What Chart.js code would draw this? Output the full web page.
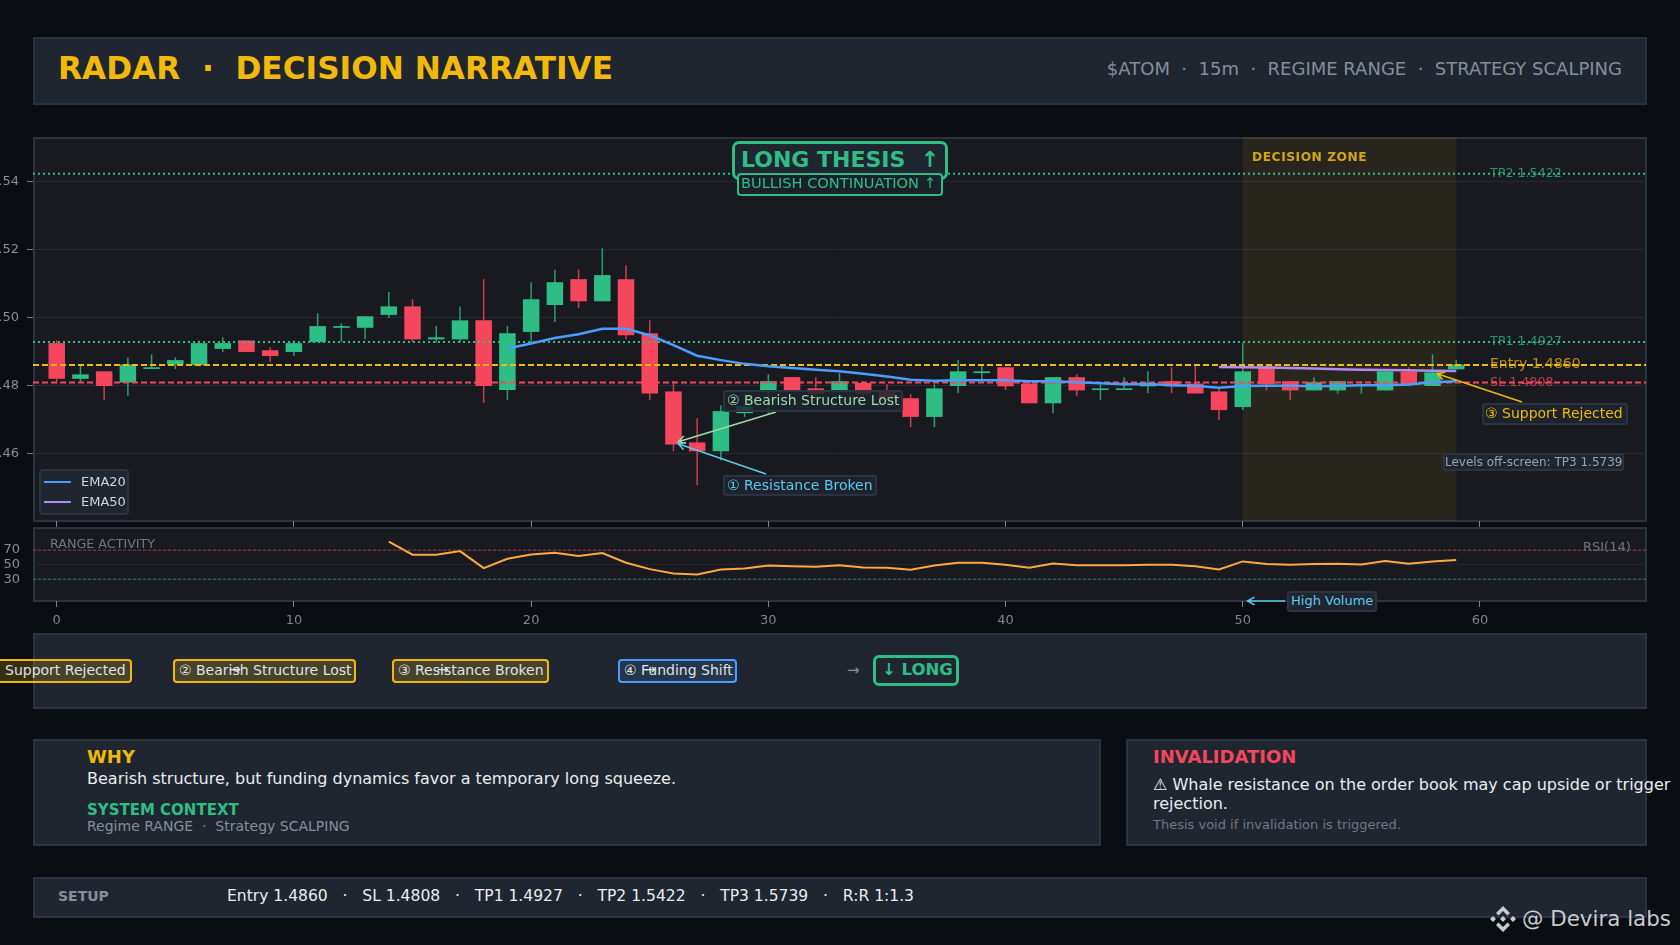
<!DOCTYPE html>
<html>
<head>
<meta charset="utf-8">
<title>RADAR Decision Narrative</title>
<script src="https://cdn.jsdelivr.net/npm/chart.js@4/dist/chart.umd.min.js"></script>
<style>
  html, body { margin: 0; padding: 0; background: #0a0d11; }
  body { position: relative; width: 1680px; height: 945px; overflow: hidden; font-family: "DejaVu Sans", sans-serif; color: #eaecef; }
  .panel { position: absolute; box-sizing: border-box; background: #1f2630; border: 2px solid #2b3340; }
  .plot { position: absolute; box-sizing: border-box; background: #181a20; border: 2px solid #2b3340; }
  .t { position: absolute; white-space: pre; line-height: 20px; }
  .box { position: absolute; box-sizing: border-box; white-space: pre; border-radius: 3px; background: rgba(31,38,48,.85); border: 2px solid #2b3340; display: flex; align-items: center; }
  .chip { position: absolute; box-sizing: border-box; top: 659px; height: 24px; padding-bottom: 2px; white-space: pre; border-radius: 4px; border: 2px solid #f0b90b; background: rgba(240,185,11,.2); font-size: 14px; display: flex; align-items: center; color: #dfe2e7; }
  canvas { position: absolute; left: 0; }
  #price-chart { top: 137px; }
  #rsi-chart { top: 527px; }
</style>
</head>
<body>

<!-- panels -->
<div class="panel" style="left:33px;top:37px;width:1614px;height:68px"></div>
<div class="plot" style="left:33px;top:137px;width:1614px;height:385px"></div>
<div class="plot" style="left:33px;top:527px;width:1614px;height:75px"></div>
<div class="panel" style="left:33px;top:633px;width:1614px;height:76px"></div>
<div class="panel" style="left:33px;top:739px;width:1068px;height:107px"></div>
<div class="panel" style="left:1126px;top:739px;width:521px;height:107px"></div>
<div class="panel" style="left:33px;top:877px;width:1614px;height:41px"></div>

<canvas id="price-chart" width="1680" height="393"></canvas>
<canvas id="rsi-chart" width="1680" height="103"></canvas>

<!-- header -->
<div class="t" style="left:58px;top:57px;line-height:22px;font-size:31.2px;font-weight:bold;color:#f0b90b">RADAR  ·  DECISION NARRATIVE</div>
<div class="t" style="right:58px;top:59px;font-size:18px;color:#848e9c">$ATOM  ·  15m  ·  REGIME RANGE  ·  STRATEGY SCALPING</div>

<!-- thesis badge -->
<div class="box" style="left:732px;top:141px;width:216px;height:39px;border:3px solid #2ebd85;border-radius:7px;background:#1f2630;padding-left:6px;padding-bottom:2px;font-size:22px;font-weight:bold;color:#2ebd85">LONG THESIS  ↑</div>
<div class="box" style="left:737px;top:173px;width:206px;height:23px;border:2px solid #2ebd85;border-radius:4px;background:#1b2129;padding-left:2px;padding-bottom:4px;font-size:14.6px;color:#2ebd85">BULLISH CONTINUATION ↑</div>

<!-- level and zone labels -->
<div class="t" style="left:1252px;top:147px;font-size:12.3px;font-weight:bold;letter-spacing:.5px;color:#d4a514">DECISION ZONE</div>
<div class="t" style="left:1490px;top:163px;font-size:12.7px;color:#2ebd85;opacity:.75">TP2 1.5422</div>
<div class="t" style="left:1490px;top:331px;font-size:12.7px;color:#2ebd85;opacity:.75">TP1 1.4927</div>
<div class="t" style="left:1490px;top:353px;font-size:14px;color:#f0b90b;opacity:.75">Entry 1.4860</div>
<div class="t" style="left:1490px;top:372px;font-size:12.7px;color:#f6465d;opacity:.75">SL 1.4808</div>

<!-- chart callouts -->
<div class="box" style="left:723px;top:390px;width:180px;height:22px;padding-left:2px;padding-bottom:2px;font-size:14px;color:#a0d9a4">② Bearish Structure Lost</div>
<div class="box" style="left:723px;top:475px;width:154px;height:21px;padding-left:2px;padding-bottom:2px;font-size:14px;color:#5ec8f0">① Resistance Broken</div>
<div class="box" style="left:1482px;top:403px;width:146px;height:22px;padding-left:1px;padding-bottom:2px;font-size:14px;color:#f0b90b">③ Support Rejected</div>
<div class="box" style="left:1443px;top:453px;width:181px;height:18px;padding-left:0;font-size:12px;color:#9aa2ae;background:#1f2630">Levels off-screen: TP3 1.5739</div>
<div class="box" style="left:1287px;top:591px;width:90px;height:21px;padding-left:2px;padding-bottom:2px;font-size:13px;color:#5ec8f0;background:#1f2630">High Volume</div>

<!-- legend -->
<div class="box" style="left:39px;top:469px;width:90px;height:46px;background:#1f2630;border-radius:4px"></div>
<div class="t" style="left:81px;top:472px;font-size:13px;color:#cfd3da">EMA20</div>
<div class="t" style="left:81px;top:492px;font-size:13px;color:#cfd3da">EMA50</div>
<div style="position:absolute;left:44px;top:481px;width:27px;height:2px;background:#4a9eff"></div>
<div style="position:absolute;left:44px;top:501px;width:27px;height:2px;background:#b08cf0"></div>

<!-- rsi labels -->
<div class="t" style="left:50px;top:534px;font-size:12.7px;color:#6f7785">RANGE ACTIVITY</div>
<div class="t" style="left:1583px;top:537px;font-size:13px;color:#6f7785">RSI(14)</div>

<!-- chain -->
<div class="chip" style="left:-21px;width:153px;padding-left:7px">① Support Rejected</div>
<div class="chip" style="left:173px;width:183px;padding-left:4px">② Bearish Structure Lost</div>
<div class="chip" style="left:392px;width:157px;padding-left:4px">③ Resistance Broken</div>
<div class="chip" style="left:618px;width:119px;padding-left:4px;border-color:#4a9eff;background:rgba(74,158,255,.13)">④ Funding Shift</div>
<div class="t" style="left:229px;top:659px;font-size:14px;color:#dfe2e7">→</div>
<div class="t" style="left:437px;top:659px;font-size:14px;color:#dfe2e7">→</div>
<div class="t" style="left:644px;top:659px;font-size:14px;color:#dfe2e7">→</div>
<div class="t" style="left:847px;top:660px;font-size:15px;color:#848e9c">→</div>
<div class="chip" style="left:873px;top:655px;width:86px;height:31px;padding-left:6px;padding-bottom:2px;border:3px solid #2ebd85;border-radius:6px;background:transparent;font-size:16.5px;font-weight:bold;color:#2ebd85">↓ LONG</div>

<!-- why -->
<div class="t" style="left:87px;top:747px;font-size:18px;font-weight:bold;color:#f0b90b">WHY</div>
<div class="t" style="left:87px;top:769px;font-size:16px;color:#eaecef">Bearish structure, but funding dynamics favor a temporary long squeeze.</div>
<div class="t" style="left:87px;top:800px;font-size:15px;font-weight:bold;color:#2ebd85">SYSTEM CONTEXT</div>
<div class="t" style="left:87px;top:816px;font-size:14px;color:#848e9c">Regime RANGE  ·  Strategy SCALPING</div>

<!-- invalidation -->
<div class="t" style="left:1153px;top:747px;font-size:18px;font-weight:bold;color:#f6465d">INVALIDATION</div>
<div class="t" style="left:1153px;top:775px;font-size:16px;color:#eaecef">⚠ Whale resistance on the order book may cap upside or trigger</div>
<div class="t" style="left:1153px;top:794px;font-size:16px;color:#eaecef">rejection.</div>
<div class="t" style="left:1153px;top:815px;font-size:13px;color:#6f7785">Thesis void if invalidation is triggered.</div>

<!-- setup -->
<div class="t" style="left:58px;top:886px;font-size:14px;font-weight:bold;color:#848e9c">SETUP</div>
<div class="t" style="left:227px;top:886px;font-size:15.55px;color:#eaecef">Entry 1.4860   ·   SL 1.4808   ·   TP1 1.4927   ·   TP2 1.5422   ·   TP3 1.5739   ·   R:R 1:1.3</div>

<!-- watermark -->
<svg style="position:absolute;left:1489px;top:905px" width="28" height="28" viewBox="0 0 28 28" fill="#c8cbd0">
  <polygon points="14,11 17,14 14,17 11,14"/>
  <polygon points="4,11 7,14 4,17 1,14"/>
  <polygon points="24,11 27,14 24,17 21,14"/>
  <polygon points="14,1 21,8 18.5,10.5 14,6 9.5,10.5 7,8"/>
  <polygon points="14,27 21,20 18.5,17.5 14,22 9.5,17.5 7,20"/>
</svg>
<div class="t" style="left:1522px;top:909px;font-size:21.4px;color:#c8cbd0">@ Devira labs</div>

<script>
// candles
const candleIndex = [0,1,2,3,4,5,6,7,8,9,10,11,12,13,14,15,16,17,18,19,20,21,22,23,24,25,26,27,28,29,30,31,32,33,34,35,36,37,38,39,40,41,42,43,44,45,46,47,48,49,50,51,52,53,54,55,56,57,58,59];
const opens = [1.4924,1.4819,1.4841,1.4808,1.4848,1.4861,1.4859,1.4907,1.4932,1.4903,1.4898,1.4927,1.4969,1.4969,1.5007,1.5032,1.4935,1.4935,1.4991,1.4786,1.4957,1.5036,1.5112,1.5047,1.5112,1.4953,1.4782,1.4632,1.4606,1.4718,1.4782,1.4824,1.4791,1.4780,1.4807,1.4780,1.4762,1.4707,1.4798,1.4836,1.4853,1.4805,1.4747,1.4824,1.4786,1.4786,1.4797,1.4812,1.4805,1.4782,1.4736,1.4856,1.4812,1.4785,1.4785,1.4799,1.4785,1.4841,1.4798,1.4847];
const closes = [1.4819,1.4832,1.4798,1.4861,1.4853,1.4874,1.4924,1.4924,1.4898,1.4886,1.4924,1.4974,1.4974,1.5003,1.5032,1.4935,1.4941,1.4991,1.4798,1.4953,1.5053,1.5103,1.5047,1.5124,1.4947,1.4776,1.4626,1.4606,1.4724,1.4738,1.4812,1.4782,1.4775,1.4812,1.4775,1.4761,1.4707,1.4791,1.4841,1.4841,1.4797,1.4747,1.4824,1.4785,1.4791,1.4791,1.4805,1.4797,1.4776,1.4727,1.4841,1.4803,1.4785,1.4809,1.4812,1.4803,1.4841,1.4803,1.4838,1.4861];
const highs = [1.4932,1.4859,1.4841,1.4881,1.4891,1.4882,1.4931,1.4941,1.4932,1.4912,1.4932,1.5012,1.4982,1.5003,1.5074,1.5053,1.4974,1.5032,1.5112,1.4974,1.5103,1.5140,1.5140,1.5203,1.5153,1.4991,1.4812,1.4703,1.4741,1.4745,1.4832,1.4824,1.4824,1.4836,1.4812,1.4803,1.4774,1.4803,1.4874,1.4859,1.4853,1.4809,1.4824,1.4832,1.4809,1.4824,1.4841,1.4853,1.4861,1.4794,1.4924,1.4860,1.4812,1.4824,1.4812,1.4812,1.4841,1.4853,1.4891,1.4874];
const lows = [1.4808,1.4808,1.4757,1.4769,1.4848,1.4848,1.4856,1.4898,1.4898,1.4869,1.4886,1.4927,1.4927,1.4935,1.4998,1.4927,1.4925,1.4927,1.4748,1.4757,1.4923,1.4986,1.5027,1.5047,1.4935,1.4757,1.4606,1.4506,1.4579,1.4707,1.4717,1.4782,1.4765,1.4775,1.4765,1.4760,1.4677,1.4677,1.4777,1.4818,1.4786,1.4747,1.4718,1.4768,1.4757,1.4786,1.4777,1.4777,1.4776,1.4698,1.4727,1.4785,1.4757,1.4785,1.4776,1.4776,1.4785,1.4797,1.4798,1.4847];

// moving averages, they start late
const ema20Index = [19,20,21,22,23,24,25,26,27,28,29,30,31,32,33,34,35,36,37,38,39,40,41,42,43,44,45,46,47,48,49,50,51,52,53,54,55,56,57,58,59];
const ema20 = [1.4908,1.4923,1.4939,1.4950,1.4966,1.4966,1.4947,1.4918,1.4887,1.4874,1.4863,1.4856,1.4851,1.4846,1.4841,1.4834,1.4826,1.4816,1.4813,1.4815,1.4815,1.4815,1.4812,1.4812,1.4809,1.4806,1.4803,1.4804,1.4800,1.4799,1.4793,1.4798,1.4799,1.4799,1.4797,1.4798,1.4800,1.4800,1.4802,1.4809,1.4812];
const ema50Index = [49,50,51,52,53,54,55,56,57,58,59];
const ema50 = [1.4854,1.4853,1.4852,1.4851,1.4849,1.4847,1.4846,1.4845,1.4844,1.4843,1.4842];

// rsi starts at candle 14
const rsiIndex = [14,15,16,17,18,19,20,21,22,23,24,25,26,27,28,29,30,31,32,33,34,35,36,37,38,39,40,41,42,43,44,45,46,47,48,49,50,51,52,53,54,55,56,57,58,59];
const rsiValues = [81.5,63.6,63.6,68.6,45.2,58,64,66.3,61.7,65.9,52.5,43.8,37.8,36.4,43.3,44.7,48.9,47.9,47,49,46,45.6,42.9,48.9,52.5,52.5,49.8,45.6,51.6,49.3,49.3,49.3,49.8,49.8,47.9,43.3,54.4,50.7,49.8,50.7,51.1,50.2,54.8,51.1,54.4,56.2];

// levels
const tp2Level = 1.5422;
const tp1Level = 1.4927;
const entryLevel = 1.4860;
const slLevel = 1.4808;
const rsiUpper = 70;
const rsiLower = 30;

// axis
const xTickValues = [0,10,20,30,40,50,60];
const priceTickValues = [1.46,1.48,1.50,1.52,1.54];
const rsiTickValues = [30,50,70];
const xRange = [-1, 67];

const decisionZone = [50, 59];

const GREEN = '#2ebd85';
const RED = '#f6465d';
const YELLOW = '#f0b90b';
const TICK_COLOR = '#7c8492';

const candleColors = opens.map((o, i) => closes[i] >= o ? GREEN : RED);
const wickColors = opens.map((o, i) => closes[i] >= o ? 'rgba(46,189,133,.8)' : 'rgba(246,70,93,.8)');

function levelLine(value, color, dash, order) {
    return {
        type: 'line',
        data: xRange.map(x => ({ x: x, y: value })),
        borderColor: color,
        borderWidth: 2,
        borderDash: dash,
        pointRadius: 0,
        order: order
    };
}

function avgLine(index, values, color, order) {
    return {
        type: 'line',
        data: index.map((x, i) => ({ x: x, y: values[i] })),
        borderColor: color,
        borderWidth: 2.5,
        pointRadius: 0,
        tension: 0,
        order: order
    };
}

function drawArrow(ctx, x0, y0, x1, y1, color) {
    const a = Math.atan2(y1 - y0, x1 - x0);
    ctx.save();
    ctx.strokeStyle = color;
    ctx.lineWidth = 1.5;
    ctx.beginPath();
    ctx.moveTo(x0, y0);
    ctx.lineTo(x1, y1);
    ctx.moveTo(x1 - 8 * Math.cos(a - 0.5), y1 - 8 * Math.sin(a - 0.5));
    ctx.lineTo(x1, y1);
    ctx.lineTo(x1 - 8 * Math.cos(a + 0.5), y1 - 8 * Math.sin(a + 0.5));
    ctx.stroke();
    ctx.restore();
}

// shaded zone goes under the candles
const zonePlugin = {
    id: 'zone',
    beforeDatasetsDraw(chart) {
        const { ctx, chartArea, scales } = chart;
        const left = scales.x.getPixelForValue(decisionZone[0]);
        const right = scales.x.getPixelForValue(decisionZone[1]);
        ctx.save();
        ctx.fillStyle = 'rgba(240,185,11,.08)';
        ctx.fillRect(left, chartArea.top, right - left, chartArea.bottom - chartArea.top);
        ctx.restore();
    }
};

// tails are pixel spots next to the callout boxes, tips follow the scales
const calloutPlugin = {
    id: 'callouts',
    afterDatasetsDraw(chart) {
        const { ctx, scales } = chart;
        const top = 137;
        drawArrow(ctx, 776, 412 - top, scales.x.getPixelForValue(26.2), scales.y.getPixelForValue(1.4634), '#a0d9a4');
        drawArrow(ctx, 766, 474 - top, scales.x.getPixelForValue(26.2), scales.y.getPixelForValue(1.4628), '#5ec8f0');
        drawArrow(ctx, 1522, 402 - top, scales.x.getPixelForValue(58.2), scales.y.getPixelForValue(1.4834), YELLOW);
    }
};

const volumePlugin = {
    id: 'volume',
    afterDatasetsDraw(chart) {
        const { scales } = chart;
        const y = scales.y.getPixelForValue(0);
        drawArrow(chart.ctx, 1285, y, scales.x.getPixelForValue(50.2), y, '#5ec8f0');
    }
};

new Chart(document.getElementById('price-chart'), {
    type: 'bar',
    data: {
        datasets: [
            levelLine(tp2Level, GREEN, [2, 3], 3),
            levelLine(tp1Level, GREEN, [2, 3], 3),
            levelLine(entryLevel, YELLOW, [6, 3], 3),
            levelLine(slLevel, RED, [6, 3], 3),
            avgLine(ema50Index, ema50, '#b08cf0', 2),
            avgLine(ema20Index, ema20, '#4a9eff', 1),
            {
                data: candleIndex.map((x, i) => ({ x: x, y: [opens[i], closes[i]] })),
                backgroundColor: candleColors,
                maxBarThickness: 16.5,
                grouped: false,
                order: 5
            },
            {
                data: candleIndex.map((x, i) => ({ x: x, y: [lows[i], highs[i]] })),
                backgroundColor: wickColors,
                maxBarThickness: 1.5,
                grouped: false,
                order: 6
            }
        ]
    },
    options: {
        responsive: false,
        animation: false,
        layout: { padding: { right: 34 } },
        plugins: { legend: { display: false }, tooltip: { enabled: false } },
        scales: {
            x: {
                type: 'linear',
                offset: false,
                min: xRange[0],
                max: xRange[1],
                grid: { drawOnChartArea: false, color: TICK_COLOR, tickLength: 6, offset: false },
                border: { display: false },
                ticks: { display: false },
                afterBuildTicks: s => { s.ticks = xTickValues.map(v => ({ value: v })); },
                afterFit: s => { s.height = 9; s.paddingLeft = 0; s.paddingRight = 0; }
            },
            y: {
                min: 1.4401,
                max: 1.553,
                grid: { color: '#272a32', tickColor: TICK_COLOR, tickLength: 6 },
                border: { display: false },
                ticks: {
                    color: '#848e9c',
                    font: { family: 'DejaVu Sans', size: 13 },
                    padding: 8,
                    callback: v => v.toFixed(2)
                },
                afterBuildTicks: s => { s.ticks = priceTickValues.map(v => ({ value: v })); },
                afterFit: s => { s.width = 33; s.paddingTop = 0; s.paddingBottom = 0; }
            }
        }
    },
    plugins: [zonePlugin, calloutPlugin]
});

new Chart(document.getElementById('rsi-chart'), {
    type: 'line',
    data: {
        datasets: [
            { data: xRange.map(x => ({ x: x, y: rsiUpper })), borderColor: 'rgba(246,70,93,.6)', borderWidth: 1, borderDash: [3, 2], pointRadius: 0 },
            { data: xRange.map(x => ({ x: x, y: rsiLower })), borderColor: 'rgba(46,189,133,.6)', borderWidth: 1, borderDash: [3, 2], pointRadius: 0 },
            { data: rsiIndex.map((x, i) => ({ x: x, y: rsiValues[i] })), borderColor: '#ffa940', borderWidth: 2, pointRadius: 0, tension: 0 }
        ]
    },
    options: {
        responsive: false,
        animation: false,
        layout: { padding: { right: 34 } },
        plugins: { legend: { display: false }, tooltip: { enabled: false } },
        scales: {
            x: {
                type: 'linear',
                min: xRange[0],
                max: xRange[1],
                grid: { drawOnChartArea: false, color: TICK_COLOR, tickLength: 6 },
                border: { display: false },
                ticks: {
                    color: '#7c8492',
                    font: { family: 'DejaVu Sans', size: 13 },
                    padding: 6,
                    maxRotation: 0,
                    autoSkip: false,
                    callback: v => String(v)
                },
                afterBuildTicks: s => { s.ticks = xTickValues.map(v => ({ value: v })); },
                afterFit: s => { s.height = 29; s.paddingLeft = 0; s.paddingRight = 0; }
            },
            y: {
                min: 0,
                max: 101.7,
                grid: { color: '#23262e', drawTicks: false },
                border: { display: false },
                ticks: {
                    color: '#848e9c',
                    font: { family: 'DejaVu Sans', size: 13 },
                    padding: 13,
                    callback: v => String(v)
                },
                afterBuildTicks: s => { s.ticks = rsiTickValues.map(v => ({ value: v })); },
                afterFit: s => { s.width = 33; s.paddingTop = 0; s.paddingBottom = 0; }
            }
        }
    },
    plugins: [volumePlugin]
});
</script>
</body>
</html>
